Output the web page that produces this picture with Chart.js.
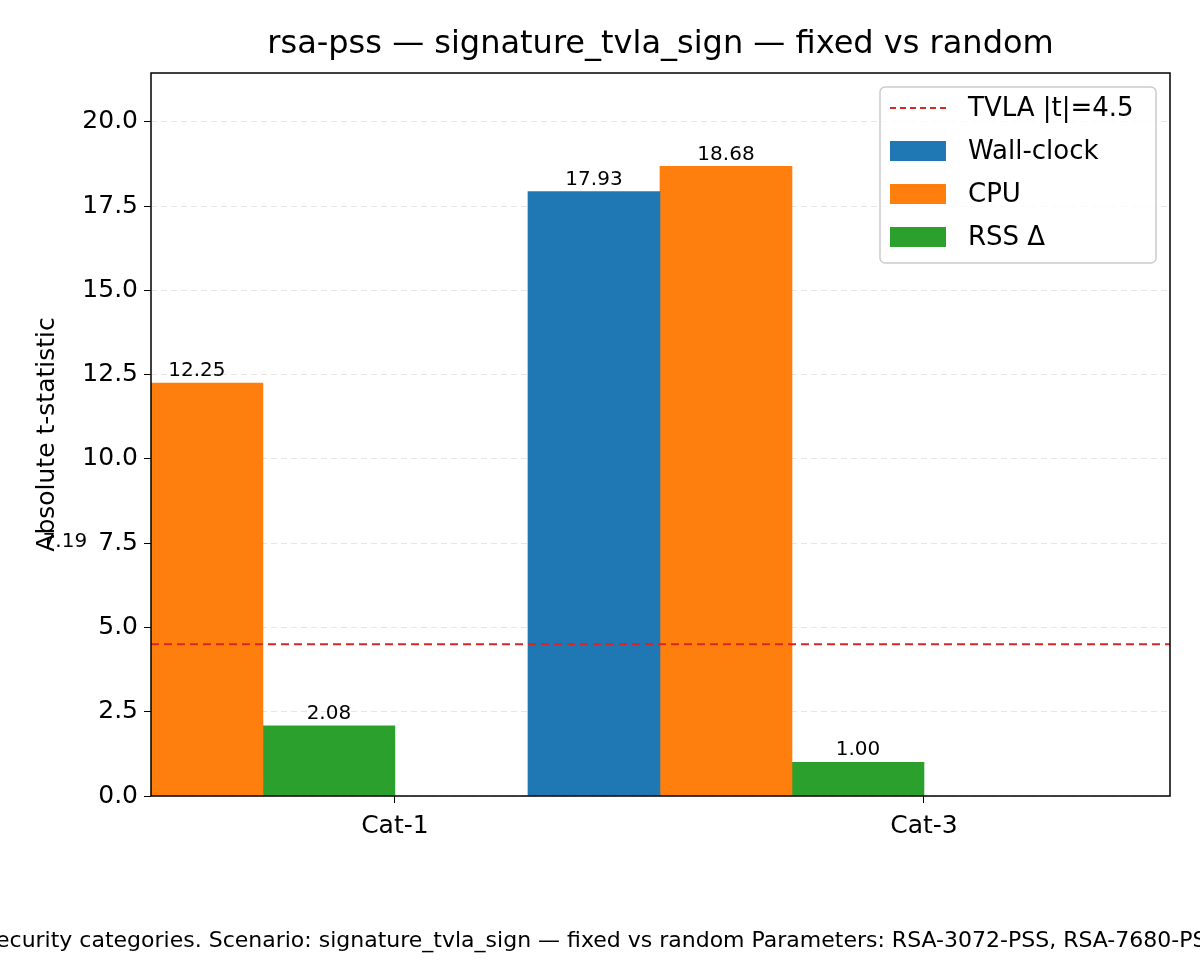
<!DOCTYPE html>
<html>
<head>
<meta charset="utf-8">
<script src="https://cdn.jsdelivr.net/npm/chart.js@4"></script>
<style>
  body { margin: 0; background: #fff; }
  #wrap { width: 1200px; height: 960px; }
</style>
</head>
<body>
<div id="wrap"><canvas id="c" width="1200" height="960"></canvas></div>
<script>
// Data
const categories = ["Cat-1", "Cat-3"];
const wallClock = [7.19, 17.93];
const cpu = [12.25, 18.68];
const rssDelta = [2.08, 1.0];
const tvlaThreshold = 4.5;
const yTicks = [0, 2.5, 5, 7.5, 10, 12.5, 15, 17.5, 20];

const FONT = "'DejaVu Sans', sans-serif";
const xMin = -0.461, xMax = 1.465;

function pts(arr) { return arr.map((v, i) => ({ x: i, y: v })); }

// labels above bars, title, frame, legend, footer
const extras = {
  id: "extras",
  afterDatasetsDraw(chart) {
    const ctx = chart.ctx;
    ctx.save();
    ctx.fillStyle = "#000";
    ctx.font = "20px " + FONT;
    ctx.textAlign = "center";
    ctx.textBaseline = "bottom";
    [0, 1, 2].forEach((di) => {
      chart.getDatasetMeta(di).data.forEach((bar, i) => {
        const v = chart.data.datasets[di].data[i].y;
        ctx.fillText(v.toFixed(2), bar.x, bar.y - 2);
      });
    });
    ctx.restore();
  },
  afterDraw(chart) {
    const ctx = chart.ctx;
    const a = chart.chartArea;
    ctx.save();
    // frame
    ctx.strokeStyle = "#000";
    ctx.lineWidth = 1.5;
    ctx.strokeRect(a.left, a.top, a.right - a.left, a.bottom - a.top);
    // title
    ctx.fillStyle = "#000";
    ctx.font = "32px " + FONT;
    ctx.textAlign = "center";
    ctx.textBaseline = "middle";
    ctx.fillText("rsa-pss — signature_tvla_sign — fixed vs random", (a.left + a.right) / 2, 45);
    // legend
    const lx = 880, ly = 87, lw = 276, lh = 176;
    ctx.fillStyle = "rgba(255,255,255,0.8)";
    ctx.strokeStyle = "#ccc";
    ctx.lineWidth = 1.5;
    ctx.beginPath();
    ctx.roundRect(lx, ly, lw, lh, 5);
    ctx.fill();
    ctx.stroke();
    const items = chart.data.datasets;
    const order = [3, 0, 1, 2];
    ctx.font = "26px " + FONT;
    ctx.textAlign = "left";
    order.forEach((di, k) => {
      const cy = ly + 21 + k * 43;
      const ds = items[di];
      if (ds.type === "line") {
        ctx.strokeStyle = ds.borderColor;
        ctx.lineWidth = 2;
        ctx.setLineDash([6, 4]);
        ctx.beginPath();
        ctx.moveTo(lx + 10, cy);
        ctx.lineTo(lx + 66, cy);
        ctx.stroke();
        ctx.setLineDash([]);
      } else {
        ctx.fillStyle = ds.backgroundColor;
        ctx.fillRect(lx + 10, cy - 10, 56, 20);
      }
      ctx.fillStyle = "#000";
      ctx.fillText(ds.label, lx + 88, cy + 1);
    });
    // footer caption (wider than canvas, clipped both sides)
    ctx.font = "22px " + FONT;
    ctx.textAlign = "left";
    const prefix = "Absolute Welch t-statistics across s";
    const full = prefix + "ecurity categories. Scenario: signature_tvla_sign — fixed vs random Parameters: RSA-3072-PSS, RSA-7680-PSS";
    ctx.fillText(full, -4 - ctx.measureText(prefix).width, 941);
    ctx.restore();
  }
};

new Chart(document.getElementById("c"), {
  type: "bar",
  data: {
    datasets: [
      { label: "Wall-clock", data: pts(wallClock), backgroundColor: "#1f77b4", barThickness: 132 },
      { label: "CPU", data: pts(cpu), backgroundColor: "#ff7f0e", barThickness: 132 },
      { label: "RSS Δ", data: pts(rssDelta), backgroundColor: "#2ca02c", barThickness: 132 },
      {
        type: "line", label: "TVLA |t|=4.5", xAxisID: "x2",
        data: [{ x: 0, y: tvlaThreshold }, { x: 1, y: tvlaThreshold }],
        borderColor: "#d62728", borderWidth: 2, borderDash: [8, 5], pointRadius: 0, order: -1
      }
    ]
  },
  options: {
    responsive: false,
    animation: false,
    layout: { padding: { left: 28, right: 30, top: 73, bottom: 104 } },
    plugins: { legend: { display: false }, tooltip: { enabled: false } },
    scales: {
      x: {
        type: "linear", min: xMin, max: xMax, offset: false,
        afterBuildTicks(s) { s.ticks = categories.map((c, i) => ({ value: i })); },
        afterFit(s) { s.height = 60; },
        ticks: { callback: (v) => categories[v], color: "#000", font: { family: FONT, size: 25 }, padding: 8 },
        grid: { display: true, drawOnChartArea: false, drawTicks: true, tickColor: "#000", tickLength: 7, offset: false },
        border: { display: false }
      },
      x2: {
        type: "linear", min: 0, max: 1, display: false, offset: false
      },
      y: {
        min: 0, max: 21.45,
        afterBuildTicks(s) { s.ticks = yTicks.map((v) => ({ value: v })); },
        afterFit(s) { s.width = 123; },
        title: { display: true, text: "Absolute t-statistic", color: "#000", font: { family: FONT, size: 25 }, padding: 4 },
        ticks: { callback: (v) => v.toFixed(1), color: "#000", font: { family: FONT, size: 25 }, padding: 6 },
        grid: { color: "rgba(0,0,0,0.1)", tickColor: "#000", tickLength: 7, drawTicks: true },
        border: { display: false, dash: [6, 4] }
      }
    }
  },
  plugins: [extras]
});
</script>
</body>
</html>
